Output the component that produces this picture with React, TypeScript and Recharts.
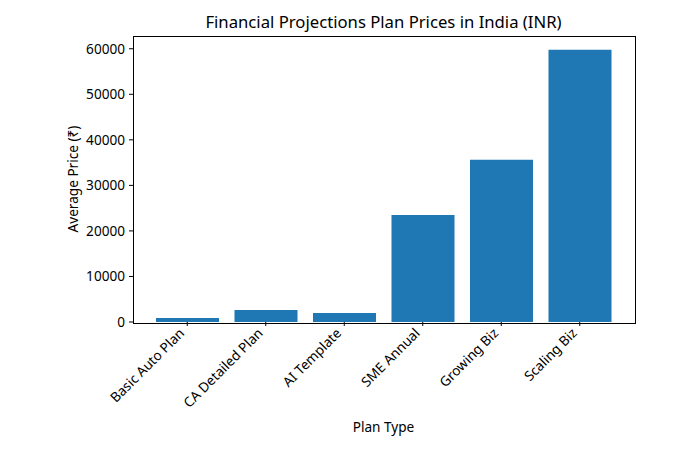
import React from 'react';
import { BarChart, Bar, XAxis, YAxis, Label } from 'recharts';

const categories = ['Basic Auto Plan', 'CA Detailed Plan', 'AI Template', 'SME Annual', 'Growing Biz', 'Scaling Biz'];
const prices = [880, 2640, 1980, 23500, 35600, 59800];
const yTicks = [0, 10000, 20000, 30000, 40000, 50000, 60000];

const data = categories.map((name, i) => ({ name, price: prices[i] }));

const FONT = 'Noto Sans, sans-serif';
const FS = 13.6;

const XTick = ({ x, y, payload }: any) => (
    <g transform={`translate(${x - 2},${y + 6})`}>
        <text x={0} y={0} textAnchor="end" transform="rotate(-45)" fontSize={FS} fill="#000" fontFamily={FONT}>
            {payload.value}
        </text>
    </g>
);

export default function App() {
    return (
        <div style={{ position: 'absolute', left: 0, top: 0, width: 700, height: 450, background: '#fff', fontFamily: FONT }}>
            <div style={{ position: 'absolute', left: 133, width: 501, top: 11, textAlign: 'center', fontSize: 16.7, lineHeight: '22px', color: '#000' }}>
                Financial Projections Plan Prices in India (INR)
            </div>
            <BarChart width={700} height={450} data={data} margin={{ top: 36, right: 66, left: 0, bottom: 0 }}>
                <XAxis dataKey="name" height={128} padding={{ left: 15, right: 15 }} interval={0}
                    tickSize={4} tickMargin={2} tickLine={{ stroke: '#000', strokeWidth: 1 }}
                    axisLine={false} tick={<XTick />}>
                    <Label content={({ viewBox }: any) => (
                        <text x={viewBox.x + viewBox.width / 2} y={432} textAnchor="middle" fontSize={FS} fill="#000" fontFamily={FONT}>
                            Plan Type
                        </text>
                    )} />
                </XAxis>
                <YAxis width={133} domain={[0, 62800]} ticks={yTicks} interval={0} tickSize={4} tickMargin={4}
                    tickLine={{ stroke: '#000', strokeWidth: 1 }} axisLine={false}
                    tick={{ fontSize: FS, fill: '#000', fontFamily: FONT }}>
                    <Label content={({ viewBox }: any) => {
                        const cx = 72;
                        const cy = viewBox.y + viewBox.height / 2;
                        return (
                            <text x={cx} y={cy} textAnchor="middle" dominantBaseline="central" transform={`rotate(-90, ${cx}, ${cy})`}
                                fontSize={FS} fill="#000" fontFamily={FONT}>
                                Average Price (₹)
                            </text>
                        );
                    }} />
                </YAxis>
                <Bar dataKey="price" fill="#1f77b4" barSize={63} isAnimationActive={false} />
            </BarChart>
            <div style={{ position: 'absolute', left: 132.5, top: 35.5, width: 501, height: 286, border: '1px solid #000', pointerEvents: 'none' }} />
        </div>
    );
}
